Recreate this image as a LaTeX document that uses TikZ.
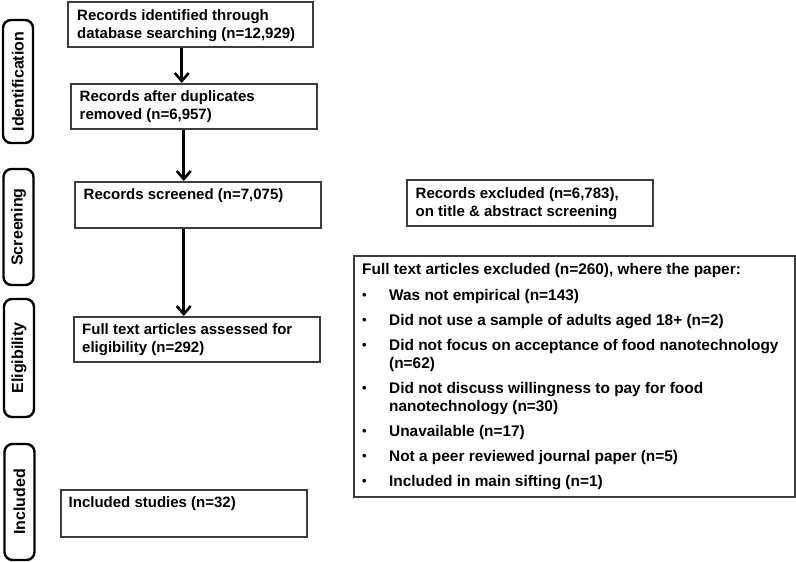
\documentclass[tikz,border=0pt]{standalone}
\usepackage{fontspec}
\setmainfont{Liberation Sans}
\usetikzlibrary{arrows.meta}
\definecolor{boxgray}{HTML}{3C3C3C}
\newcommand{\smbul}{\makebox[27pt][l]{\raisebox{0.7pt}{\fontsize{13}{18}\selectfont •}}}
\begin{document}
\begin{tikzpicture}[x=1pt,y=-1pt,
  box/.style={draw=boxgray, line width=1.5pt, anchor=north west, inner sep=0pt},
  txt/.style={anchor=base west, inner sep=0pt, font=\fontsize{15}{18}\selectfont\bfseries, text=black},
  side/.style={draw=black, line width=2.4pt, rounded corners=8pt, rotate=90, minimum height=30pt, inner sep=0pt, font=\fontsize{16}{19}\selectfont\bfseries},
  arr/.style={line width=2.6pt, -{Straight Barb[length=8pt,width=14pt]}}]
\useasboundingbox (0,0) rectangle (796,562);

% side labels
\node[side, minimum width=123pt] (s1) at (18,81.5) {Identification};
\node[side, minimum width=116pt] (s2) at (18.5,227) {Screening};
\node[side, minimum width=118pt] (s3) at (19,358) {Eligibility};
\node[side, minimum width=116pt] (s4) at (19.5,502) {Included};

% boxes
\node[box, minimum width=245pt, minimum height=45pt] (b1) at (67,1) {};
\node[box, minimum width=246pt, minimum height=45pt] (b2) at (70,83) {};
\node[box, minimum width=246pt, minimum height=46pt] (b3) at (74,181) {};
\node[box, minimum width=246pt, minimum height=45pt] (b4) at (73,316) {};
\node[box, minimum width=246pt, minimum height=47pt] (b5) at (60,489) {};
\node[box, minimum width=246pt, minimum height=46pt] (e1) at (406,179) {};
\node[box, minimum width=441pt, minimum height=241pt] (e2) at (353,255) {};

% texts
\node[txt] (t1) at (77,20.5) {\begin{tabular}[t]{@{}l@{}}Records identified through\\database searching (n=12,929)\end{tabular}};
\node[txt] (t2) at (79.5,101.5) {\begin{tabular}[t]{@{}l@{}}Records after duplicates\\removed (n=6,957)\end{tabular}};
\node[txt] (t3) at (83.5,199) {Records screened (n=7,075)};
\node[txt] (t4) at (82,334) {\begin{tabular}[t]{@{}l@{}}Full text articles assessed for\\eligibility (n=292)\end{tabular}};
\node[txt] (t5) at (68.5,507.5) {Included studies (n=32)};
\node[txt] (t6) at (415.5,198.5) {\begin{tabular}[t]{@{}l@{}}Records excluded (n=6,783),\\on title \& abstract screening\end{tabular}};
\node[txt, font=\fontsize{15.4}{18}\selectfont\bfseries] (t7) at (362,274) {\begin{tabular}[t]{@{}l@{}l@{}}
\multicolumn{2}{@{}l@{}}{Full text articles excluded (n=260), where the paper:}\\[8pt]
\smbul & Was not empirical (n=143)\\[7pt]
\smbul & Did not use a sample of adults aged 18+ (n=2)\\[7pt]
\smbul & Did not focus on acceptance of food nanotechnology\\
 & (n=62)\\[7pt]
\smbul & Did not discuss willingness to pay for food\\
 & nanotechnology (n=30)\\[7pt]
\smbul & Unavailable (n=17)\\[7pt]
\smbul & Not a peer reviewed journal paper (n=5)\\[7pt]
\smbul & Included in main sifting (n=1)
\end{tabular}};

% arrows
\draw[arr] ([xshift=-8.5pt]b1.south) -- ([xshift=-8.5pt]b1.south |- b2.north);
\draw[arr] ([xshift=-10pt]b2.south) -- ([xshift=-10pt]b2.south |- b3.north);
\draw[arr] ([xshift=-14pt]b3.south) -- ([xshift=-14pt]b3.south |- b4.north);
\end{tikzpicture}
\end{document}
